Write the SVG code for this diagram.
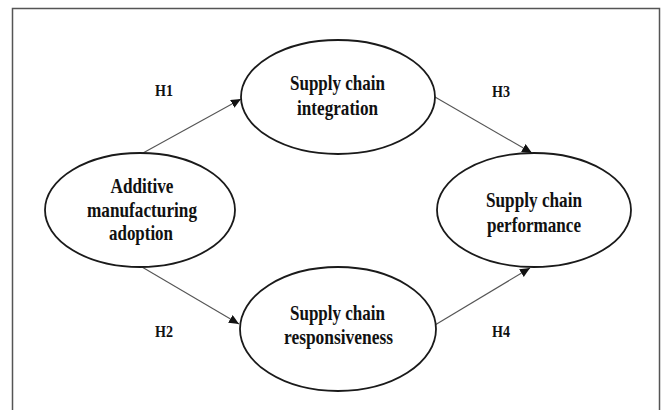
<svg xmlns="http://www.w3.org/2000/svg" width="664" height="410" viewBox="0 0 664 410">
<style>
.bg{fill:#ffffff}
.frame{fill:none;stroke:#555;stroke-width:1.5}
.node ellipse{fill:#fff;stroke:#1a1a1a;stroke-width:1.8}
.lbl{font-family:"Liberation Serif","Times New Roman",serif;font-weight:bold;font-size:21px;fill:#111;text-anchor:middle}
.h{font-family:"Liberation Serif","Times New Roman",serif;font-weight:bold;font-size:17px;fill:#111;text-anchor:middle}
.edge{stroke:#555;stroke-width:1.1;fill:none;marker-end:url(#arr)}
</style>
<defs>
<marker id="arr" markerUnits="userSpaceOnUse" markerWidth="11" markerHeight="9" refX="10" refY="4.5" orient="auto">
<path d="M0,0 L10,4.5 L0,9 Z" fill="#111"/>
</marker>
</defs>
<rect class="bg" x="0" y="0" width="664" height="410"/>
<rect class="frame" x="12.5" y="8.5" width="647" height="430"/>
<g id="connectors">
<line class="edge" x1="143" y1="153" x2="241" y2="99"/>
<line class="edge" x1="142" y1="267" x2="239" y2="324"/>
<line class="edge" x1="435" y1="97" x2="532" y2="153"/>
<line class="edge" x1="435" y1="325" x2="530" y2="268"/>
</g>
<g id="labels">
<text class="h" x="164" y="96" textLength="18" lengthAdjust="spacingAndGlyphs">H1</text>
<text class="h" x="164" y="337" textLength="18" lengthAdjust="spacingAndGlyphs">H2</text>
<text class="h" x="501" y="97" textLength="18" lengthAdjust="spacingAndGlyphs">H3</text>
<text class="h" x="501" y="337" textLength="18" lengthAdjust="spacingAndGlyphs">H4</text>
</g>
<g id="am" class="node">
<ellipse cx="140" cy="210" rx="95" ry="57"/>
<text class="lbl" x="142" y="193" textLength="63" lengthAdjust="spacingAndGlyphs">Additive</text>
<text class="lbl" x="142" y="217" textLength="110" lengthAdjust="spacingAndGlyphs">manufacturing</text>
<text class="lbl" x="141" y="240" textLength="64" lengthAdjust="spacingAndGlyphs">adoption</text>
</g>
<g id="sci" class="node">
<ellipse cx="338" cy="97" rx="97" ry="57"/>
<text class="lbl" x="337.5" y="90" textLength="95" lengthAdjust="spacingAndGlyphs">Supply chain</text>
<text class="lbl" x="337.5" y="115" textLength="81" lengthAdjust="spacingAndGlyphs">integration</text>
</g>
<g id="scr" class="node">
<ellipse cx="338" cy="329" rx="98" ry="62"/>
<text class="lbl" x="337.5" y="320" textLength="95" lengthAdjust="spacingAndGlyphs">Supply chain</text>
<text class="lbl" x="338.5" y="344" textLength="109" lengthAdjust="spacingAndGlyphs">responsiveness</text>
</g>
<g id="scp" class="node">
<ellipse cx="534" cy="210" rx="97" ry="57"/>
<text class="lbl" x="534" y="207" textLength="96" lengthAdjust="spacingAndGlyphs">Supply chain</text>
<text class="lbl" x="534" y="232" textLength="94" lengthAdjust="spacingAndGlyphs">performance</text>
</g>
</svg>
